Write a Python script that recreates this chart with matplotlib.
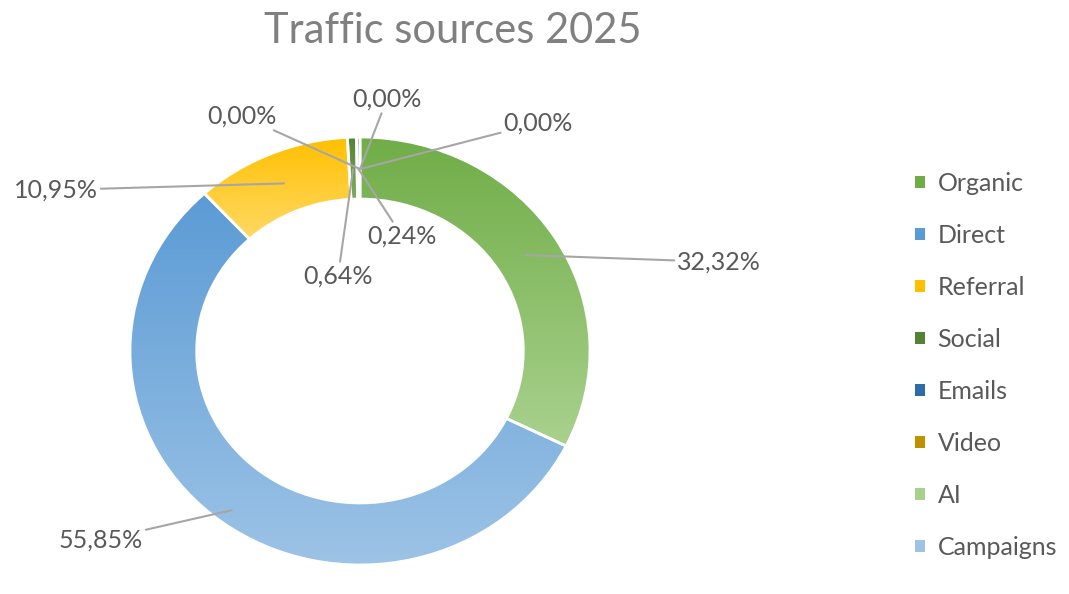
import numpy as np
import matplotlib.pyplot as plt
from matplotlib.patches import Patch
from matplotlib.colors import to_rgb

plt.rcParams['font.family'] = ['Lato', 'DejaVu Sans']

# data
sources = ['Organic', 'Direct', 'Referral', 'Social', 'Emails', 'Video', 'AI', 'Campaigns']
shares = [32.32, 55.85, 10.95, 0.64, 0.24, 0.00, 0.00, 0.00]

# gradient colours (top -> bottom) per slice
top_colors = ['#70ad47', '#5b9bd5', '#ffc000', '#548235', '#2e6ca8', '#bf9000', '#a9d18e', '#9dc3e6']
bottom_colors = ['#a9d18e', '#9dc3e6', '#ffd966', '#7fae5e', '#5b8fc4', '#d9b13a', '#c5e0b4', '#bdd7ee']

# label placement, pixels from top-left of the figure
label_pos = [(677, 262), (143, 540), (98, 190), (338, 276), (402, 236), (387, 99), (242, 116), (538, 123)]
label_ha = ['left', 'right', 'right', 'center', 'center', 'center', 'center', 'center']
anchor_r = [0.85, 0.93, 0.85, 0.85, 0.85, 0.85, 0.85, 0.85]

W, H = 1069, 594
fig = plt.figure(figsize=(W / 100, H / 100), dpi=100)
fig.patch.set_facecolor('white')

# donut is slightly wider than tall in the reference
ax = fig.add_axes([130 / W, 1 - 565 / H, 460 / W, 428 / H])
wedges, _ = ax.pie(shares, startangle=90, counterclock=False, radius=1,
                   wedgeprops=dict(width=0.29, edgecolor='white', linewidth=2))

grad = np.linspace(0, 1, 256)[:, None, None]
for w, c0, c1 in zip(wedges, top_colors, bottom_colors):
    if w.theta2 - w.theta1 <= 0:
        continue
    bb = w.get_path().get_extents()
    img = (1 - grad) * np.array(to_rgb(c0)) + grad * np.array(to_rgb(c1))
    im = ax.imshow(img, extent=(bb.x0, bb.x1, bb.y0, bb.y1), origin='upper',
                   aspect='auto', zorder=1, interpolation='bilinear')
    im.set_clip_path(w)
    w.set_facecolor('none')
    w.set_zorder(2)

ax.set_xlim(-1, 1)
ax.set_ylim(-1, 1)
ax.set_aspect('auto')
ax.axis('off')

# data labels with leader lines
for w, v, (px, py), ha, r in zip(wedges, shares, label_pos, label_ha, anchor_r):
    mid = np.deg2rad((w.theta1 + w.theta2) / 2)
    anchor = (r * np.cos(mid), r * np.sin(mid))
    txt = f'{v:.2f}%'.replace('.', ',')
    ax.annotate(txt, xy=anchor, xytext=(px, H - py), textcoords='figure pixels',
                ha=ha, va='center', fontsize=18, color='#595959',
                arrowprops=dict(arrowstyle='-', color='#a6a6a6', lw=1.5,
                                shrinkA=0, shrinkB=0),
                annotation_clip=False, zorder=5)

fig.text(453 / W, 1 - 31 / H, 'Traffic sources 2025', ha='center', va='center',
         fontsize=30, color='#808080')

handles = [Patch(facecolor=c, edgecolor='none') for c in top_colors]
fig.legend(handles, sources, loc='upper left', bbox_to_anchor=(915 / W, 1 - 172 / H),
           frameon=False, fontsize=18, handlelength=0.4, handleheight=0.4,
           handletextpad=0.5, labelspacing=1.16, labelcolor='#595959',
           borderpad=0, borderaxespad=0)

fig.savefig('out.png', dpi=100, facecolor='white')
